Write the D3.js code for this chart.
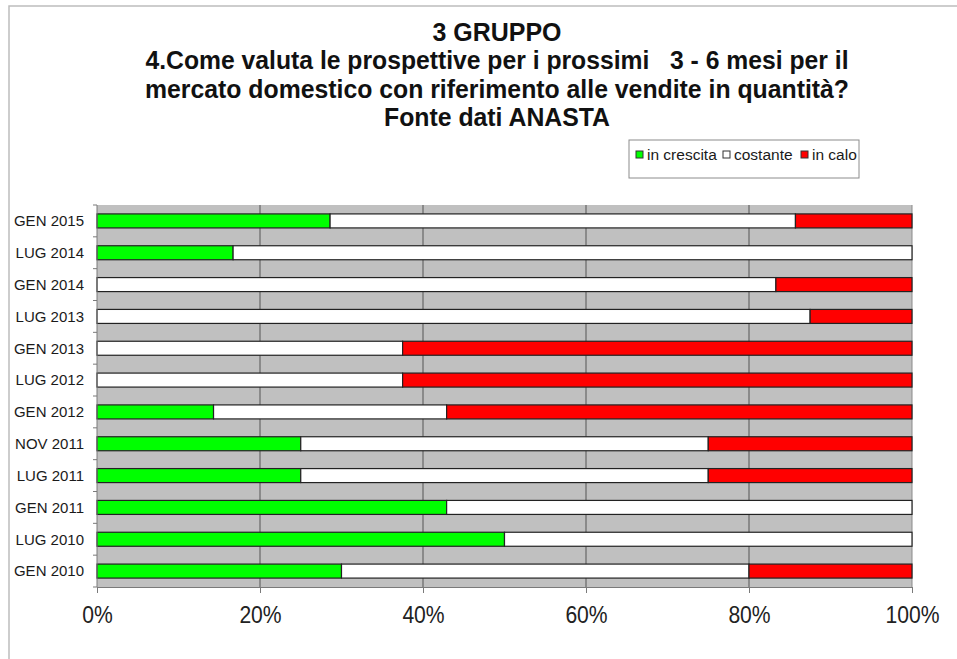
<!DOCTYPE html>
<html><head><meta charset="utf-8">
<script src="https://cdn.jsdelivr.net/npm/d3@7"></script>
<style>body{margin:0;background:#fff;} svg{display:block;font-family:"Liberation Sans",Arial,sans-serif;} .title{white-space:pre;}</style>
</head><body>
<svg id="chart" width="957" height="659"></svg>
<script>
const titleLines = ["3 GRUPPO","4.Come valuta le prospettive per i prossimi   3 - 6 mesi per il","mercato domestico con riferimento alle vendite in quantità?","Fonte dati ANASTA"];
const categories = ["GEN 2015","LUG 2014","GEN 2014","LUG 2013","GEN 2013","LUG 2012","GEN 2012","NOV 2011","LUG 2011","GEN 2011","LUG 2010","GEN 2010"];
const seriesNames = ["in crescita","costante","in calo"];
const seriesColors = ["#00ff00","#ffffff","#ff0000"];
const inCrescita = [28.6,16.7,0,0,0,0,14.3,25,25,42.9,50,30];
const costante  = [57.1,83.3,83.3,87.5,37.5,37.5,28.6,50,50,57.1,50,50];
const inCalo    = [14.3,0,16.7,12.5,62.5,62.5,57.1,25,25,0,0,20];
const xTicks = [0,20,40,60,80,100];

const svg = d3.select("#chart");
const W = 957, H = 659;
const m = {left:97, right:912, top:205, bottom:587};

// outer frame
svg.append("path").attr("d",`M9,${H} L9,6 L${W},6`).attr("fill","none").attr("stroke","#bdbdbd").attr("stroke-width",1.5);

// title
const tWidths = [129,703,704,226];
const tBase = [41,69,98,126];
titleLines.forEach((t,i)=>{
  svg.append("text").attr("class","title").attr("x",497).attr("y",tBase[i]).attr("text-anchor","middle")
    .attr("font-size",25).attr("font-weight","bold").attr("fill","#111")
    .attr("textLength",tWidths[i]).attr("lengthAdjust","spacingAndGlyphs").text(t);
});

const x = d3.scaleLinear().domain([0,100]).range([m.left,m.right]);
const y = d3.scaleBand().domain(categories).range([m.top,m.bottom]).paddingInner(0.56).paddingOuter(0.28);

// plot background
svg.append("rect").attr("x",m.left).attr("y",m.top).attr("width",m.right-m.left).attr("height",m.bottom-m.top).attr("fill","#c0c0c0");

// gridlines
svg.append("g").selectAll("line").data(xTicks.slice(1)).join("line")
  .attr("x1",d=>x(d)).attr("x2",d=>x(d)).attr("y1",m.top).attr("y2",m.bottom)
  .attr("stroke",d=>d===100?"#8a8a8a":"#555").attr("stroke-width",1);

// stacked bars
const data = categories.map((c,i)=>({cat:c,"in crescita":inCrescita[i],"costante":costante[i],"in calo":inCalo[i]}));
const stack = d3.stack().keys(seriesNames)(data);
stack.forEach((s,si)=>{
  svg.append("g").selectAll("rect").data(s.filter(d=>d[1]-d[0]>0)).join("rect")
    .attr("x",d=>x(d[0])).attr("width",d=>x(d[1])-x(d[0]))
    .attr("y",d=>y(d.data.cat)).attr("height",y.bandwidth())
    .attr("fill",seriesColors[si]).attr("stroke","#222").attr("stroke-width",1.2);
});

// left axis
const bounds = d3.range(categories.length+1).map(i=>m.top + i*(m.bottom-m.top)/categories.length);
svg.append("line").attr("x1",m.left).attr("x2",m.left).attr("y1",m.top).attr("y2",m.bottom).attr("stroke","#7a7a7a");
svg.append("g").selectAll("line").data(bounds).join("line")
  .attr("x1",m.left-4).attr("x2",m.left).attr("y1",d=>d).attr("y2",d=>d).attr("stroke","#7a7a7a");
svg.append("g").selectAll("text").data(categories).join("text")
  .attr("x",84).attr("y",d=>y(d)+y.bandwidth()/2).attr("dy","0.35em").attr("text-anchor","end")
  .attr("font-size",15).attr("fill","#1a1a1a").text(d=>d);

// bottom axis
const xAxis = svg.append("g").attr("transform",`translate(0,${m.bottom})`)
  .call(d3.axisBottom(x).tickValues(xTicks).tickSize(6).tickSizeOuter(0).tickFormat(d=>d+"%"));
xAxis.select(".domain").attr("stroke","#7a7a7a");
xAxis.selectAll(".tick line").attr("stroke","#7a7a7a");
xAxis.selectAll(".tick text").attr("font-size",24).attr("fill","#222").attr("font-family","Liberation Sans, Arial, sans-serif")
  .attr("y",0).attr("dy",0).attr("transform","translate(0,36) scale(0.88,1)");

// legend
const lg = svg.append("g");
lg.append("rect").attr("x",629).attr("y",140).attr("width",230).attr("height",38).attr("fill","#fff").attr("stroke","#8c8c8c");
const legX = [636,723,801];
seriesNames.forEach((n,i)=>{
  lg.append("rect").attr("x",legX[i]).attr("y",151).attr("width",7).attr("height",7)
    .attr("fill",seriesColors[i]).attr("stroke","#333").attr("stroke-width",1);
  lg.append("text").attr("x",legX[i]+11).attr("y",160).attr("font-size",15.5).attr("fill","#1a1a1a").text(n);
});
</script>
</body></html>
